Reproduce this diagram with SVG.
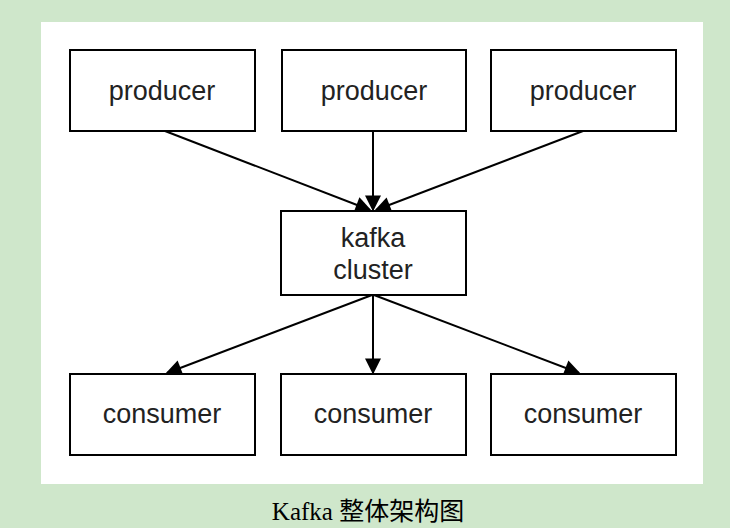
<svg xmlns="http://www.w3.org/2000/svg" width="730" height="528" viewBox="0 0 730 528">
<style>
.b{fill:#fff;stroke:#000;stroke-width:2}
.t{font-family:"Liberation Sans",Arial,sans-serif;font-size:27px;text-anchor:middle;fill:#222}
.c{stroke:#000;stroke-width:2;fill:none;marker-end:url(#a)}
</style>
<defs><marker id="a" viewBox="0 0 10 10" refX="9" refY="5" markerWidth="9" markerHeight="8" orient="auto" markerUnits="strokeWidth"><path d="M0,0L10,5L0,10z" fill="#000"/></marker></defs>
<rect width="730" height="528" fill="#cfe7cb"/>
<rect x="41" y="22" width="662" height="462" fill="#fff"/>
<g id="edges">
<line class="c" x1="165" y1="131" x2="370" y2="210"/>
<line class="c" x1="373" y1="131" x2="373" y2="210"/>
<line class="c" x1="583" y1="131" x2="376" y2="210"/>
<line class="c" x1="372" y1="295" x2="167" y2="373"/>
<line class="c" x1="373" y1="295" x2="373" y2="373"/>
<line class="c" x1="374" y1="295" x2="579" y2="373"/>
</g>
<g id="p1"><rect class="b" x="70" y="50" width="185" height="81"/><text class="t" x="162" y="100">producer</text></g>
<g id="p2"><rect class="b" x="282" y="50" width="184" height="81"/><text class="t" x="374" y="100">producer</text></g>
<g id="p3"><rect class="b" x="491" y="50" width="185" height="81"/><text class="t" x="583" y="100">producer</text></g>
<g id="k"><rect class="b" x="281" y="211" width="185" height="84"/><text class="t" x="373" y="247">kafka</text><text class="t" x="373" y="279">cluster</text></g>
<g id="c1"><rect class="b" x="70" y="374" width="185" height="81"/><text class="t" x="162" y="423">consumer</text></g>
<g id="c2"><rect class="b" x="281" y="374" width="185" height="81"/><text class="t" x="373" y="423">consumer</text></g>
<g id="c3"><rect class="b" x="491" y="374" width="185" height="81"/><text class="t" x="583" y="423">consumer</text></g>
<text x="368" y="520" font-family="'Liberation Serif','Noto Sans CJK SC',serif" font-size="25" text-anchor="middle" fill="#000">Kafka 整体架构图</text>
</svg>
